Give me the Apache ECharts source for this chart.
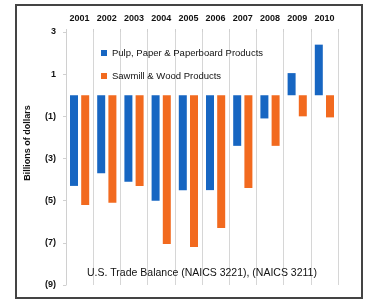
<!DOCTYPE html>
<html>
<head>
<meta charset="utf-8">
<script src="https://cdn.jsdelivr.net/npm/echarts@6/dist/echarts.min.js"></script>
<style>
  html, body { margin: 0; padding: 0; background: #fff; }
  #chart { width: 369px; height: 305px; }
</style>
</head>
<body>
<div id="chart"></div>
<script>
// years across the top
var years = ['2001', '2002', '2003', '2004', '2005', '2006', '2007', '2008', '2009', '2010'];
// billions of dollars
var pulpPaper = [-4.3, -3.7, -4.1, -5.0, -4.5, -4.5, -2.4, -1.1, 1.05, 2.4];
var sawmillWood = [-5.2, -5.1, -4.3, -7.05, -7.2, -6.3, -4.4, -2.4, -1.0, -1.05];
var seriesNames = ['Pulp, Paper & Paperboard Products', 'Sawmill & Wood Products'];

var narrow = "'Liberation Sans Narrow', 'Arial Narrow', 'Liberation Sans', sans-serif";

var myChart = echarts.init(document.getElementById('chart'));

function moneyLabel(v) {
  if (v < 0) return '(' + (-v) + ')';
  return '' + v;
}

var option = {
  animation: false,
  color: ['#1766c2', '#f26a1f'],
  title: {
    text: 'U.S. Trade Balance (NAICS 3221), (NAICS 3211)',
    left: 82,
    top: 263,
    textStyle: { fontFamily: narrow, fontSize: 10.5, fontWeight: 'normal', color: '#111' }
  },
  legend: {
    orient: 'vertical',
    left: 96,
    top: 43,
    itemGap: 13,
    itemWidth: 6,
    itemHeight: 6,
    icon: 'rect',
    data: seriesNames,
    textStyle: { fontFamily: narrow, fontSize: 9.5, color: '#111' }
  },
  grid: { left: 66, right: 31, top: 32, bottom: 20 },
  xAxis: {
    type: 'category',
    position: 'top',
    data: years,
    axisLine: { show: false, onZero: false },
    axisTick: { show: true, length: 3, lineStyle: { color: '#cfcfcf' } },
    axisLabel: { fontFamily: narrow, fontSize: 9, fontWeight: 'bold', color: '#111', margin: 9 },
    splitLine: { show: true, lineStyle: { color: '#d6d6d6', width: 1 } }
  },
  yAxis: {
    type: 'value',
    min: -9,
    max: 3,
    interval: 2,
    axisLine: { show: true, lineStyle: { color: '#d0d0d0' } },
    axisTick: { show: true, length: 3, lineStyle: { color: '#d0d0d0' } },
    axisLabel: { formatter: moneyLabel, fontFamily: narrow, fontSize: 9, fontWeight: 'bold', color: '#111', margin: 10 },
    splitLine: { show: false }
  },
  graphic: [
    {
      type: 'rect',
      shape: { x: 16, y: 5, width: 346, height: 293 },
      style: { fill: 'none', stroke: '#444', lineWidth: 2 }
    },
    {
      type: 'text',
      x: 28,
      y: 143,
      rotation: Math.PI / 2,
      style: {
        text: 'Billions of dollars',
        fontFamily: narrow,
        fontSize: 9,
        fontWeight: 'bold',
        fill: '#111',
        align: 'center',
        verticalAlign: 'middle'
      }
    }
  ],
  series: [
    {
      name: seriesNames[0],
      type: 'bar',
      data: pulpPaper,
      barWidth: 8,
      barGap: '40%'
    },
    {
      name: seriesNames[1],
      type: 'bar',
      data: sawmillWood,
      barWidth: 8,
      barGap: '40%'
    }
  ]
};

myChart.setOption(option);
</script>
</body>
</html>
